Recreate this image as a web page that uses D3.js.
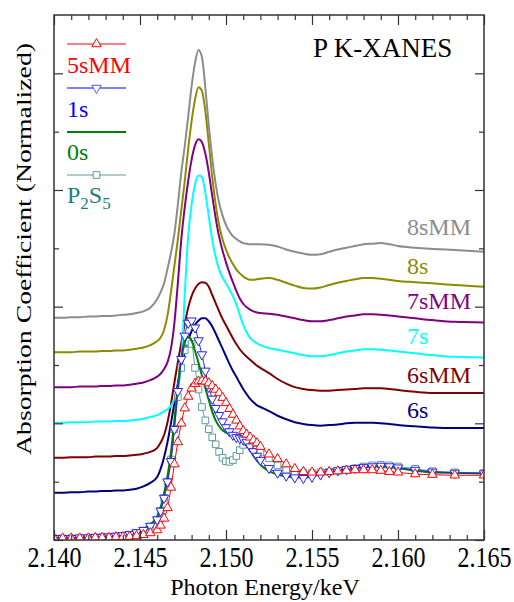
<!DOCTYPE html>
<html>
<head>
<meta charset="utf-8">
<script src="https://cdn.jsdelivr.net/npm/d3@7"></script>
<style>
  body { margin: 0; background: #fff; }
  text { font-family: "Liberation Serif", "Times New Roman", serif; }
</style>
</head>
<body>
<div id="chart"></div>
<script>
// photon energy grid (keV)
const energy = [2.1400, 2.1405, 2.1410, 2.1415, 2.1420, 2.1424, 2.1428, 2.1432, 2.1436, 2.1440, 2.1444, 2.1448, 2.1452, 2.1456,
  2.1460, 2.1462, 2.1464, 2.1466, 2.1468, 2.1470, 2.1472, 2.1474, 2.1476, 2.1478, 2.1480, 2.1482, 2.1484, 2.1486, 2.1488, 2.1490,
  2.1492, 2.1494, 2.1496, 2.1498, 2.1500, 2.1502, 2.1504, 2.1506, 2.1508, 2.1510, 2.1512, 2.1514, 2.1516, 2.1518, 2.1520,
  2.1525, 2.1530, 2.1535, 2.1540, 2.1545, 2.1550, 2.1555, 2.1560, 2.1565, 2.1570, 2.1575, 2.1580, 2.1585, 2.1590, 2.1595, 2.1600,
  2.1610, 2.1620, 2.1633, 2.1650];

// normalized absorption, bottom group (no offset)
const mu5sMM = [0.03, 0.03, 0.03, 0.03, 0.03, 0.04, 0.04, 0.04, 0.05, 0.05, 0.06, 0.07, 0.09, 0.12,
  0.17, 0.25, 0.37, 0.55, 0.90, 1.30, 1.68, 2.00, 2.26, 2.46, 2.60, 2.68, 2.72, 2.73, 2.72, 2.69,
  2.64, 2.58, 2.52, 2.44, 2.35, 2.25, 2.15, 2.05, 1.95, 1.87, 1.81, 1.76, 1.71, 1.66, 1.60,
  1.47, 1.39, 1.30, 1.22, 1.17, 1.16, 1.16, 1.17, 1.18, 1.19, 1.20, 1.20, 1.20, 1.19, 1.17, 1.16,
  1.13, 1.12, 1.11, 1.11];
const mu1s = [0.03, 0.03, 0.03, 0.04, 0.04, 0.05, 0.05, 0.06, 0.07, 0.08, 0.10, 0.13, 0.17, 0.24,
  0.35, 0.50, 0.72, 1.00, 1.35, 1.90, 2.55, 3.10, 3.50, 3.72, 3.76, 3.64, 3.42, 3.18, 2.90, 2.62,
  2.42, 2.26, 2.14, 2.03, 1.93, 1.86, 1.80, 1.76, 1.74, 1.72, 1.68, 1.60, 1.52, 1.44, 1.37,
  1.23, 1.15, 1.10, 1.07, 1.06, 1.08, 1.12, 1.16, 1.19, 1.21, 1.23, 1.25, 1.26, 1.27, 1.26, 1.24,
  1.20, 1.17, 1.15, 1.14];
const mu0s = [0.03, 0.03, 0.03, 0.04, 0.04, 0.05, 0.05, 0.06, 0.07, 0.09, 0.11, 0.14, 0.19, 0.27,
  0.40, 0.56, 0.80, 1.10, 1.50, 2.05, 2.65, 3.10, 3.38, 3.48, 3.42, 3.24, 3.04, 2.82, 2.60, 2.40,
  2.20, 2.05, 1.95, 1.88, 1.84, 1.81, 1.79, 1.78, 1.76, 1.72, 1.64, 1.54, 1.44, 1.36, 1.29,
  1.18, 1.12, 1.09, 1.08, 1.08, 1.10, 1.13, 1.16, 1.19, 1.21, 1.23, 1.25, 1.26, 1.26, 1.25, 1.23,
  1.19, 1.16, 1.15, 1.14];
const muP2S5 = [0.03, 0.03, 0.03, 0.03, 0.04, 0.04, 0.05, 0.05, 0.06, 0.07, 0.09, 0.12, 0.16, 0.23,
  0.35, 0.50, 0.72, 1.00, 1.38, 1.90, 2.45, 2.95, 3.25, 3.40, 3.36, 2.95, 2.58, 2.28, 2.05, 1.90,
  1.76, 1.64, 1.51, 1.41, 1.35, 1.34, 1.37, 1.44, 1.54, 1.63, 1.68, 1.68, 1.62, 1.55, 1.50,
  1.40, 1.28, 1.20, 1.16, 1.15, 1.15, 1.16, 1.17, 1.19, 1.21, 1.23, 1.26, 1.28, 1.29, 1.28, 1.26,
  1.22, 1.18, 1.16, 1.15];

// normalized absorption, stacked group
const mu6s = [0.01, 0.01, 0.02, 0.02, 0.03, 0.03, 0.04, 0.04, 0.05, 0.05, 0.06, 0.08, 0.12, 0.18,
  0.28, 0.42, 0.62, 0.88, 1.20, 1.55, 1.88, 2.17, 2.42, 2.62, 2.78, 2.89, 2.96, 3.00, 3.00, 2.95,
  2.86, 2.74, 2.61, 2.48, 2.35, 2.22, 2.10, 2.00, 1.89, 1.79, 1.70, 1.62, 1.56, 1.51, 1.48,
  1.41, 1.33, 1.27, 1.22, 1.19, 1.17, 1.16, 1.17, 1.18, 1.20, 1.21, 1.21, 1.21, 1.20, 1.19, 1.17,
  1.15, 1.13, 1.12, 1.12];
const mu6sMM = [0.01, 0.01, 0.02, 0.02, 0.02, 0.03, 0.03, 0.03, 0.04, 0.04, 0.05, 0.06, 0.08, 0.11,
  0.18, 0.27, 0.40, 0.62, 0.93, 1.30, 1.65, 1.98, 2.30, 2.58, 2.78, 2.91, 2.99, 3.02, 3.01, 2.94,
  2.80, 2.66, 2.52, 2.39, 2.28, 2.17, 2.06, 1.96, 1.87, 1.80, 1.74, 1.69, 1.64, 1.59, 1.55,
  1.46, 1.36, 1.28, 1.22, 1.19, 1.17, 1.16, 1.16, 1.17, 1.18, 1.19, 1.20, 1.20, 1.20, 1.19, 1.17,
  1.14, 1.12, 1.12, 1.12];
const mu7s = [0.01, 0.01, 0.02, 0.02, 0.02, 0.03, 0.03, 0.03, 0.04, 0.04, 0.05, 0.06, 0.08, 0.11,
  0.14, 0.17, 0.20, 0.24, 0.30, 0.42, 0.62, 1.05, 2.20, 3.20, 3.75, 4.10, 4.25, 4.22, 3.95, 3.55,
  3.15, 2.85, 2.64, 2.50, 2.40, 2.30, 2.18, 2.04, 1.86, 1.69, 1.56, 1.47, 1.41, 1.37, 1.34,
  1.29, 1.26, 1.23, 1.20, 1.17, 1.15, 1.15, 1.17, 1.20, 1.23, 1.25, 1.27, 1.27, 1.26, 1.25, 1.23,
  1.20, 1.17, 1.14, 1.13];
const mu7sMM = [0.02, 0.02, 0.02, 0.03, 0.03, 0.03, 0.04, 0.04, 0.05, 0.05, 0.06, 0.08, 0.10, 0.14,
  0.20, 0.25, 0.33, 0.45, 0.68, 1.12, 1.80, 2.55, 3.10, 3.55, 3.92, 4.17, 4.27, 4.22, 4.02, 3.70,
  3.30, 2.92, 2.60, 2.36, 2.16, 1.98, 1.82, 1.67, 1.54, 1.45, 1.39, 1.35, 1.32, 1.30, 1.29,
  1.28, 1.26, 1.23, 1.20, 1.17, 1.15, 1.15, 1.17, 1.20, 1.23, 1.25, 1.27, 1.27, 1.26, 1.25, 1.23,
  1.20, 1.17, 1.14, 1.13];
const mu8s = [0.02, 0.02, 0.02, 0.03, 0.03, 0.03, 0.04, 0.04, 0.05, 0.05, 0.06, 0.08, 0.10, 0.14,
  0.21, 0.27, 0.40, 0.65, 1.05, 1.50, 1.95, 2.45, 2.95, 3.50, 3.98, 4.35, 4.56, 4.50, 4.15, 3.60,
  3.02, 2.55, 2.20, 1.95, 1.78, 1.64, 1.53, 1.44, 1.37, 1.32, 1.28, 1.26, 1.26, 1.27, 1.28,
  1.29, 1.26, 1.21, 1.16, 1.12, 1.11, 1.13, 1.17, 1.21, 1.24, 1.27, 1.29, 1.29, 1.28, 1.26, 1.24,
  1.22, 1.20, 1.17, 1.14];
const mu8sMM = [0.01, 0.01, 0.02, 0.02, 0.03, 0.03, 0.04, 0.04, 0.05, 0.06, 0.07, 0.09, 0.12, 0.18,
  0.33, 0.45, 0.60, 0.85, 1.12, 1.45, 1.95, 2.50, 2.95, 3.45, 3.98, 4.38, 4.60, 4.48, 3.95, 3.30,
  2.75, 2.30, 1.98, 1.76, 1.60, 1.49, 1.41, 1.36, 1.32, 1.29, 1.28, 1.27, 1.27, 1.27, 1.27,
  1.26, 1.23, 1.18, 1.14, 1.11, 1.09, 1.10, 1.14, 1.18, 1.21, 1.24, 1.27, 1.28, 1.29, 1.27, 1.24,
  1.21, 1.19, 1.17, 1.14];

// vertical offsets of the stacked spectra
const stackNames = ['6s', '6sMM', '7s', '7sMM', '8s', '8sMM'];
const stackOffsets = [0.8, 1.4, 2.0, 2.6, 3.2, 3.8];

// ticks
const xMajorTicks = [2.140, 2.145, 2.150, 2.155, 2.160, 2.165];
const xMinorTicks = [2.141, 2.142, 2.143, 2.144, 2.146, 2.147, 2.148, 2.149, 2.151, 2.152, 2.153, 2.154,
  2.156, 2.157, 2.158, 2.159, 2.161, 2.162, 2.163, 2.164];
const yMajorTicks = [0, 2, 4, 6, 8];
const yMinorTicks = [1, 3, 5, 7];

// set scales
const xScale = d3.scaleLinear().domain([2.140, 2.165]).range([54, 484]);
const yScale = d3.scaleLinear().domain([0, 9]).range([540, 15]);

const line = d3.line()
  .x(d => xScale(d[0]))
  .y(d => yScale(d[1]))
  .curve(d3.curveMonotoneX);

// create main svg
const chart = d3.select('#chart')
  .append('svg')
  .attr('width', 514)
  .attr('height', 602);

chart.append('defs').append('clipPath').attr('id', 'clip')
  .append('rect').attr('x', 54).attr('y', 15).attr('width', 430).attr('height', 525);

const plot = chart.append('g').attr('clip-path', 'url(#clip)');

// stacked spectra
const stacked = [
  { name: '6s', mu: mu6s, color: '#000080', labelY: 418 },
  { name: '6sMM', mu: mu6sMM, color: '#800000', labelY: 383 },
  { name: '7s', mu: mu7s, color: '#00ffff', labelY: 344 },
  { name: '7sMM', mu: mu7sMM, color: '#800080', labelY: 309 },
  { name: '8s', mu: mu8s, color: '#8c8c00', labelY: 274 },
  { name: '8sMM', mu: mu8sMM, color: '#8c8c8c', labelY: 235 }
];
stacked.forEach(s => {
  const off = stackOffsets[stackNames.indexOf(s.name)];
  plot.append('path')
    .datum(energy.map((e, i) => [e, s.mu[i] + off]))
    .attr('fill', 'none')
    .attr('stroke', s.color)
    .attr('stroke-width', 2)
    .attr('d', line);
  chart.append('text')
    .attr('x', 407)
    .attr('y', s.labelY)
    .attr('fill', s.color)
    .style('font-size', '24px')
    .text(s.name);
});

// bottom spectra with markers
const triUp = d3.symbol().type(d3.symbolTriangle).size(38);
const square = d3.symbol().type(d3.symbolSquare).size(44);

const bottom = [
  { mu: muP2S5, color: '#5f9a9a', width: 1, marker: 'square' },
  { mu: mu0s, color: '#008000', width: 2, marker: null },
  { mu: mu1s, color: '#2222ff', width: 1, marker: 'down' },
  { mu: mu5sMM, color: '#ff0000', width: 1, marker: 'up' }
];

function drawMarker(g, kind, x, y, color) {
  if (!kind) return;
  const sym = kind === 'square' ? square() : triUp();
  const rot = kind === 'down' ? 180 : 0;
  g.append('path')
    .attr('d', sym)
    .attr('transform', `translate(${x},${y}) rotate(${rot})`)
    .attr('fill', '#fff')
    .attr('stroke', color)
    .attr('stroke-width', 1);
}

bottom.forEach(s => {
  const pts = energy.map((e, i) => [e, s.mu[i]]);
  plot.append('path')
    .datum(pts)
    .attr('fill', 'none')
    .attr('stroke', s.color)
    .attr('stroke-width', s.width)
    .attr('d', line);
  const mg = plot.append('g');
  pts.forEach(p => drawMarker(mg, s.marker, xScale(p[0]), yScale(p[1]), s.color));
});

// axes
const axisColor = '#333';
function styleAxis(g) {
  g.select('.domain').remove();
  g.selectAll('line').attr('stroke', axisColor).attr('stroke-width', 1.2);
}

chart.append('g')
  .attr('transform', 'translate(0,540)')
  .call(d3.axisBottom(xScale).tickValues(xMajorTicks).tickFormat(d3.format('.3f'))
    .tickSizeInner(-10).tickSizeOuter(0))
  .call(styleAxis)
  .call(g => g.selectAll('text')
    .attr('y', 0).attr('dy', null)
    .attr('transform', 'translate(0,27) scale(1,1.27)')
    .attr('fill', '#000')
    .style('font-size', '24px'));
chart.append('g')
  .attr('transform', 'translate(0,540)')
  .call(d3.axisBottom(xScale).tickValues(xMinorTicks).tickFormat('').tickSizeInner(-5).tickSizeOuter(0))
  .call(styleAxis);
chart.append('g')
  .attr('transform', 'translate(0,15)')
  .call(d3.axisTop(xScale).tickValues(xMajorTicks).tickFormat('').tickSizeInner(-10).tickSizeOuter(0))
  .call(styleAxis);
chart.append('g')
  .attr('transform', 'translate(0,15)')
  .call(d3.axisTop(xScale).tickValues(xMinorTicks).tickFormat('').tickSizeInner(-5).tickSizeOuter(0))
  .call(styleAxis);
chart.append('g')
  .attr('transform', 'translate(54,0)')
  .call(d3.axisLeft(yScale).tickValues(yMajorTicks).tickFormat('').tickSizeInner(-9).tickSizeOuter(0))
  .call(styleAxis);
chart.append('g')
  .attr('transform', 'translate(54,0)')
  .call(d3.axisLeft(yScale).tickValues(yMinorTicks).tickFormat('').tickSizeInner(-5).tickSizeOuter(0))
  .call(styleAxis);
chart.append('g')
  .attr('transform', 'translate(484,0)')
  .call(d3.axisRight(yScale).tickValues(yMajorTicks).tickFormat('').tickSizeInner(-9).tickSizeOuter(0))
  .call(styleAxis);
chart.append('g')
  .attr('transform', 'translate(484,0)')
  .call(d3.axisRight(yScale).tickValues(yMinorTicks).tickFormat('').tickSizeInner(-5).tickSizeOuter(0))
  .call(styleAxis);

// frame
chart.append('rect')
  .attr('x', 54).attr('y', 15).attr('width', 430).attr('height', 525)
  .attr('fill', 'none').attr('stroke', axisColor).attr('stroke-width', 1.5);

// axis titles
chart.append('text')
  .attr('x', 265).attr('y', 595)
  .attr('text-anchor', 'middle')
  .style('font-size', '24px')
  .text('Photon Energy/keV');
chart.append('text')
  .attr('transform', 'translate(31,249) rotate(-90) scale(1.26,1)')
  .attr('text-anchor', 'middle')
  .style('font-size', '22px')
  .text('Absorption Coefficient (Normalized)');

// title
chart.append('text')
  .attr('x', 313).attr('y', 57)
  .style('font-size', '27px')
  .text('P K-XANES');

// legend
const legendItems = [
  { label: '5sMM', color: '#ff0000', textColor: '#ff0000', marker: 'up', width: 1, lineY: 44, textY: 73 },
  { label: '1s', color: '#5555ff', textColor: '#0000ff', marker: 'down', width: 1.5, lineY: 88, textY: 117 },
  { label: '0s', color: '#008000', textColor: '#008000', marker: null, width: 2, lineY: 132, textY: 160 },
  { label: 'P2S5', color: '#5f9a9a', textColor: '#1a8080', marker: 'square', width: 1, lineY: 175, textY: 203 }
];
const legend = chart.append('g');
legendItems.forEach(d => {
  legend.append('line')
    .attr('x1', 67).attr('x2', 126).attr('y1', d.lineY).attr('y2', d.lineY)
    .attr('stroke', d.color).attr('stroke-width', d.width);
  drawMarker(legend, d.marker, 96.5, d.lineY, d.color);
  const t = legend.append('text')
    .attr('x', 67).attr('y', d.textY)
    .attr('fill', d.textColor)
    .style('font-size', '24px');
  if (d.label === 'P2S5') {
    t.append('tspan').text('P');
    t.append('tspan').attr('dy', 6).style('font-size', '17px').text('2');
    t.append('tspan').attr('dy', -6).text('S');
    t.append('tspan').attr('dy', 6).style('font-size', '17px').text('5');
  } else {
    t.text(d.label);
  }
});
</script>
</body>
</html>
